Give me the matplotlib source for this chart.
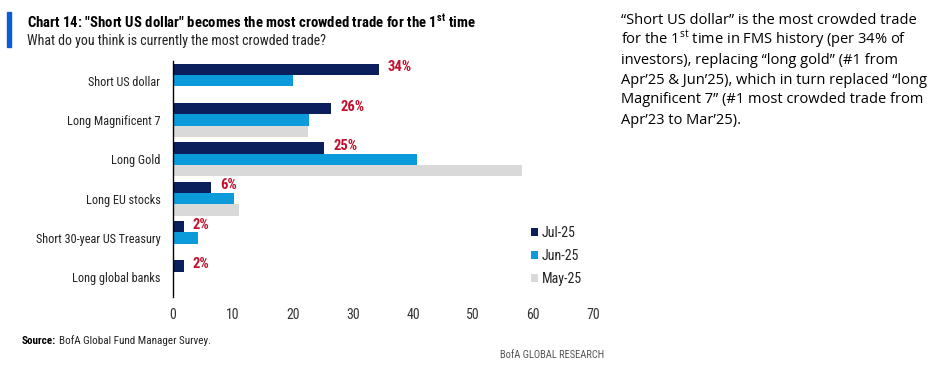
import matplotlib
matplotlib.use("Agg")
import matplotlib.pyplot as plt
from matplotlib import font_manager as fm
import numpy as np

names = {f.name for f in fm.fontManager.ttflist}
COND = "Roboto Condensed" if "Roboto Condensed" in names else "Roboto"
BODY = "Open Sans" if "Open Sans" in names else "DejaVu Sans"

plt.rcParams['font.family'] = [COND, 'DejaVu Sans']
plt.rcParams['mathtext.fontset'] = 'custom'
plt.rcParams['mathtext.rm'] = COND
plt.rcParams['mathtext.bf'] = COND + ':bold'

categories = ["Short US dollar", "Long Magnificent 7", "Long Gold", "Long EU stocks",
              "Short 30-year US Treasury", "Long global banks"]
series_names = ["Jul-25", "Jun-25", "May-25"]
jul = [34.3, 26.4, 25.2, 6.4, 1.8, 1.8]
jun = [20.0, 22.7, 40.6, 10.1, 4.2, np.nan]
may = [np.nan, 22.5, 58.2, 11.0, np.nan, np.nan]
value_labels = ["34%", "26%", "25%", "6%", "2%", "2%"]
xticks = [0, 10, 20, 30, 40, 50, 60, 70]

c_jul = "#0B1F5C"
c_jun = "#0B9BDB"
c_may = "#D9D9D9"
c_red = "#C0112D"

fig = plt.figure(figsize=(9.35, 3.69), dpi=100)
ax = fig.add_axes([173/935, 1-297/369, (593-173)/935, (297-61)/369])

y = np.arange(len(categories))
h = 0.29
ax.barh(y - h, jul, height=h, color=c_jul, label=series_names[0])
ax.barh(y, jun, height=h, color=c_jun, label=series_names[1])
ax.barh(y + h, may, height=h, color=c_may, label=series_names[2])

for yi, v, lab in zip(y, jul, value_labels):
    ax.text(v + 1.5, yi - h - 0.05, lab, color=c_red, fontsize=10.5, fontweight='bold',
            va='center', ha='left')

ax.set_ylim(len(categories) - 0.5, -0.5)
ax.set_xlim(0, 70)
ax.set_xticks(xticks)
ax.set_xticklabels([str(t) for t in xticks], fontsize=10, color="#333333")
ax.set_yticks(y)
ax.set_yticklabels(categories, fontsize=8.8, color="#222222")
ax.tick_params(axis='x', length=0, pad=8)
ax.tick_params(axis='y', length=0, pad=9)
for s in ["top", "right", "bottom"]:
    ax.spines[s].set_visible(False)
ax.spines["left"].set_color("black")
ax.spines["left"].set_linewidth(1.0)

leg = ax.legend(loc='lower right', bbox_to_anchor=(1.0, 0.0), frameon=False,
                fontsize=10, handlelength=0.55, handleheight=0.55, handletextpad=0.25,
                labelspacing=0.65, borderaxespad=0.4)
for t in leg.get_texts():
    t.set_color("#222222")

# title block
fig.patches.append(plt.Rectangle((7/935, 1-47/369), 4/935, 35/369, transform=fig.transFigure,
                                 color="#0A5BD6", zorder=5))
fig.text(27/935, 1-22/369, r'Chart 14: "Short US dollar" becomes the most crowded trade for the 1$^{\mathbf{st}}$ time',
         fontsize=10.6, fontweight='bold', va='center', ha='left', color='black')
fig.text(27/935, 1-41/369, "What do you think is currently the most crowded trade?",
         fontsize=10, va='center', ha='left', color='#222222')

# right-hand commentary
lines = ["\u201cShort US dollar\u201d is the most crowded trade",
         "for the 1$^{\\mathregular{st}}$ time in FMS history (per 34% of",
         "investors), replacing \u201clong gold\u201d (#1 from",
         "Apr\u201925 & Jun\u201925), which in turn replaced \u201clong",
         "Magnificent 7\u201d (#1 most crowded trade from",
         "Apr\u201923 to Mar\u201925)."]
for i, ln in enumerate(lines):
    fig.text(621/935, 1-(20 + 20*i)/369, ln, fontsize=10.5, family=[BODY, 'DejaVu Sans'],
             va='center', ha='left', color='black')

t1 = fig.text(22/935, 1-341/369, "Source:", fontsize=8, fontweight='bold',
              va='center', ha='left', color='black')
fig.canvas.draw()
bb = t1.get_window_extent()
fig.text((bb.x1 + 3)/935, 1-341/369, "BofA Global Fund Manager Survey.",
         fontsize=8, va='center', ha='left', color='#222222')
fig.text(604/935, 1-355/369, "BofA GLOBAL RESEARCH", fontsize=7.6, va='center', ha='right',
         color='#555555')

fig.savefig("out.png", dpi=100)
